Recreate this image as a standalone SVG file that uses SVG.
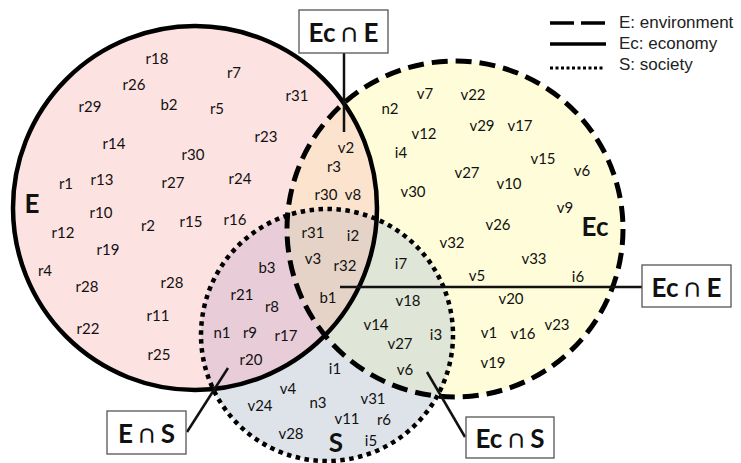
<svg xmlns="http://www.w3.org/2000/svg" width="741" height="463" viewBox="0 0 741 463">
<style>
.lbl{font-family:Lato,"Open Sans","DejaVu Sans",sans-serif;font-size:15px;fill:#111;text-anchor:middle;dominant-baseline:central}
.big{font-family:Lato,"Open Sans","DejaVu Sans",sans-serif;font-size:26px;font-weight:bold;fill:#111;text-anchor:middle;dominant-baseline:central}
.box{fill:#fff;stroke:#555;stroke-width:1.3}
.boxt{font-family:Lato,"Open Sans","DejaVu Sans",sans-serif;font-size:26px;font-weight:bold;fill:#111;text-anchor:middle;dominant-baseline:central}
.leg{font-family:"Liberation Sans",Arial,sans-serif;font-size:17px;fill:#222}
.conn{stroke:#111;stroke-width:2.5;fill:none}
</style>
<defs>
<clipPath id="cE"><circle cx="195" cy="208" r="182"/></clipPath>
<clipPath id="cEc"><circle cx="455" cy="229" r="168"/></clipPath>
</defs>
<g id="fills">
<circle cx="195" cy="208" r="182" fill="#fde2e2"/>
<circle cx="455" cy="229" r="168" fill="#fffdd9"/>
<circle cx="327" cy="335" r="126" fill="#dee3ea"/>
<circle cx="455" cy="229" r="168" fill="#fbe3cd" clip-path="url(#cE)"/>
<circle cx="327" cy="335" r="126" fill="#e8ccd8" clip-path="url(#cE)"/>
<circle cx="327" cy="335" r="126" fill="#dfe5d7" clip-path="url(#cEc)"/>
<g clip-path="url(#cEc)"><circle cx="327" cy="335" r="126" fill="#e6d3c8" clip-path="url(#cE)"/></g>
</g>
<g id="node-Ec"><circle cx="455" cy="229" r="168" fill="none" stroke="#000" stroke-width="5" stroke-dasharray="16 8"/>
<text class="big" x="595" y="226">Ec</text></g>
<g id="node-S"><circle cx="327" cy="335" r="126" fill="none" stroke="#000" stroke-width="4.5" stroke-dasharray="4.5 4.5"/>
<text class="big" x="336" y="442">S</text></g>
<g id="node-E"><circle cx="195" cy="208" r="182" fill="none" stroke="#000" stroke-width="4.5"/>
<text class="big" x="32" y="203">E</text></g>
<g id="labels">
<text class="lbl" x="157" y="58">r18</text>
<text class="lbl" x="234" y="72">r7</text>
<text class="lbl" x="134" y="84">r26</text>
<text class="lbl" x="90" y="106">r29</text>
<text class="lbl" x="169" y="104">b2</text>
<text class="lbl" x="217" y="108">r5</text>
<text class="lbl" x="297" y="95">r31</text>
<text class="lbl" x="114" y="143">r14</text>
<text class="lbl" x="193" y="154">r30</text>
<text class="lbl" x="266" y="136">r23</text>
<text class="lbl" x="66" y="183">r1</text>
<text class="lbl" x="102" y="179">r13</text>
<text class="lbl" x="173" y="182">r27</text>
<text class="lbl" x="240" y="178">r24</text>
<text class="lbl" x="101" y="212">r10</text>
<text class="lbl" x="148" y="225">r2</text>
<text class="lbl" x="191" y="221">r15</text>
<text class="lbl" x="235" y="219">r16</text>
<text class="lbl" x="63" y="232">r12</text>
<text class="lbl" x="108" y="249">r19</text>
<text class="lbl" x="45" y="270">r4</text>
<text class="lbl" x="87" y="286">r28</text>
<text class="lbl" x="172" y="282">r28</text>
<text class="lbl" x="158" y="315">r11</text>
<text class="lbl" x="88" y="328">r22</text>
<text class="lbl" x="159" y="354">r25</text>
<text class="lbl" x="267" y="267">b3</text>
<text class="lbl" x="242" y="294">r21</text>
<text class="lbl" x="272" y="306">r8</text>
<text class="lbl" x="222" y="332">n1</text>
<text class="lbl" x="250" y="332">r9</text>
<text class="lbl" x="286" y="335">r17</text>
<text class="lbl" x="251" y="359">r20</text>
<text class="lbl" x="346" y="147">v2</text>
<text class="lbl" x="334" y="166">r3</text>
<text class="lbl" x="326" y="194">r30</text>
<text class="lbl" x="353" y="194">v8</text>
<text class="lbl" x="313" y="232">r31</text>
<text class="lbl" x="353" y="235">i2</text>
<text class="lbl" x="313" y="258">v3</text>
<text class="lbl" x="345" y="265">r32</text>
<text class="lbl" x="328" y="297">b1</text>
<text class="lbl" x="390" y="108">n2</text>
<text class="lbl" x="425" y="93">v7</text>
<text class="lbl" x="473" y="94">v22</text>
<text class="lbl" x="424" y="133">v12</text>
<text class="lbl" x="482" y="125">v29</text>
<text class="lbl" x="520" y="125">v17</text>
<text class="lbl" x="401" y="152">i4</text>
<text class="lbl" x="543" y="158">v15</text>
<text class="lbl" x="582" y="170">v6</text>
<text class="lbl" x="467" y="172">v27</text>
<text class="lbl" x="509" y="183">v10</text>
<text class="lbl" x="413" y="191">v30</text>
<text class="lbl" x="565" y="207">v9</text>
<text class="lbl" x="498" y="224">v26</text>
<text class="lbl" x="452" y="242">v32</text>
<text class="lbl" x="534" y="258">v33</text>
<text class="lbl" x="401" y="263">i7</text>
<text class="lbl" x="477" y="275">v5</text>
<text class="lbl" x="578" y="276">i6</text>
<text class="lbl" x="511" y="298">v20</text>
<text class="lbl" x="408" y="300">v18</text>
<text class="lbl" x="376" y="324">v14</text>
<text class="lbl" x="436" y="334">i3</text>
<text class="lbl" x="400" y="343">v27</text>
<text class="lbl" x="405" y="369">v6</text>
<text class="lbl" x="489" y="332">v1</text>
<text class="lbl" x="523" y="333">v16</text>
<text class="lbl" x="557" y="324">v23</text>
<text class="lbl" x="493" y="362">v19</text>
<text class="lbl" x="335" y="368">i1</text>
<text class="lbl" x="288" y="388">v4</text>
<text class="lbl" x="260" y="405">v24</text>
<text class="lbl" x="318" y="402">n3</text>
<text class="lbl" x="373" y="398">v31</text>
<text class="lbl" x="347" y="418">v11</text>
<text class="lbl" x="384" y="419">r6</text>
<text class="lbl" x="291" y="433">v28</text>
<text class="lbl" x="371" y="440">i5</text>
</g>
<g id="connectors">
<line class="conn" x1="344" y1="53" x2="344" y2="132"/>
<line class="conn" x1="340" y1="287" x2="642" y2="287"/>
<line class="conn" x1="228" y1="368" x2="187" y2="432"/>
<line class="conn" x1="427" y1="372" x2="465" y2="437"/>
</g>
<g id="box-top"><rect class="box" x="299" y="10" width="89" height="43"/><text class="boxt" x="343.5" y="32">Ec ∩ E</text></g>
<g id="box-right"><rect class="box" x="642" y="265" width="89" height="42"/><text class="boxt" x="686.5" y="286.5">Ec ∩ E</text></g>
<g id="box-ES"><rect class="box" x="107" y="411" width="79" height="43"/><text class="boxt" x="146.5" y="433">E ∩ S</text></g>
<g id="box-EcS"><rect class="box" x="466" y="417" width="88" height="41"/><text class="boxt" x="510" y="438">Ec ∩ S</text></g>
<g id="legend">
<line x1="550" y1="23" x2="605" y2="23" stroke="#000" stroke-width="3.5" stroke-dasharray="24 7"/>
<line x1="550" y1="44" x2="606" y2="44" stroke="#000" stroke-width="3.5"/>
<line x1="550" y1="68" x2="604" y2="68" stroke="#000" stroke-width="3" stroke-dasharray="3 2.5"/>
<text class="leg" x="619" y="28">E: environment</text>
<text class="leg" x="619" y="49">Ec: economy</text>
<text class="leg" x="619" y="70">S: society</text>
</g>
</svg>
